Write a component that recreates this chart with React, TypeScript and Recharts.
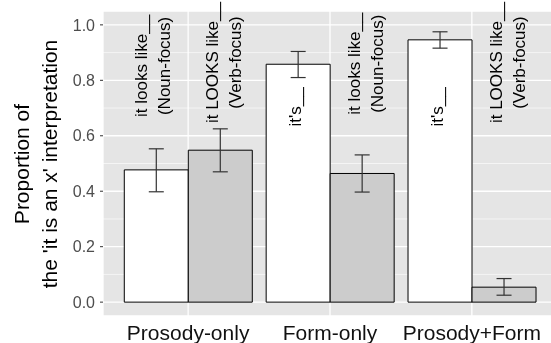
import React from 'react';
import { BarChart, Bar, XAxis, YAxis, CartesianGrid, ErrorBar, LabelList } from 'recharts';

const categories = ['Prosody-only', 'Form-only', 'Prosody+Form'];

const whiteValues = [0.477, 0.858, 0.946];
const whiteLow = [0.398, 0.81, 0.916];
const whiteHigh = [0.553, 0.904, 0.975];
const whiteLabels = ['it looks like__\n(Noun-focus)', "it's__", "it's__"];
const whiteLabelAt = [0.852, 0.704, 0.704];

const grayValues = [0.548, 0.464, 0.054];
const grayLow = [0.47, 0.397, 0.025];
const grayHigh = [0.625, 0.531, 0.085];
const grayLabels = ['it LOOKS like__\n(Verb-focus)', 'it looks like__\n(Noun-focus)', 'it LOOKS like__\n(Verb-focus)'];
const grayLabelAt = [0.864, 0.86, 0.864];

const yDomain = [-0.05, 1.05];
const yTicks = [0, 0.2, 0.4, 0.6, 0.8, 1.0];
const yMinorTicks = [0.1, 0.3, 0.5, 0.7, 0.9];

const FONT = '"Liberation Sans", Arial, Helvetica, sans-serif';

const data = categories.map((name, i) => ({
  name,
  white: whiteValues[i],
  whiteErr: [whiteValues[i] - whiteLow[i], whiteHigh[i] - whiteValues[i]],
  whiteLabel: whiteLabels[i],
  gray: grayValues[i],
  grayErr: [grayValues[i] - grayLow[i], grayHigh[i] - grayValues[i]],
  grayLabel: grayLabels[i],
}));

const makeBarLabel = (values: number[], at: number[], frac: number) => (props: any) => {
  const vb = props.viewBox && props.viewBox.width !== undefined ? props.viewBox : props;
  const { x, y, width, height } = vb;
  const i = props.index;
  if (i === undefined || x === undefined) return null;
  const base = y + height;
  const perUnit = height / values[i];
  const cy = base - at[i] * perUnit;
  const cx = x + width * frac;
  const lines = String(props.value).split('\n');
  const fs = 17;
  const lh = 23;
  return (
    <text
      transform={`rotate(-90 ${cx} ${cy})`}
      textAnchor="middle"
      fontSize={fs}
      fontFamily={FONT}
      fill="#000"
    >
      {lines.map((l, k) => (
        <tspan key={k} x={cx} y={cy + (k - (lines.length - 1) / 2) * lh + fs * 0.36}>
          {l}
        </tspan>
      ))}
    </text>
  );
};

const XTick = (props: any) => {
  const { x, y, payload } = props;
  return (
    <text x={x} y={y + 24} textAnchor="middle" fontSize={21} fontFamily={FONT} fill="#111">
      {payload.value}
    </text>
  );
};

const YTitle = () => (
  <text transform="rotate(-90 0 0)" textAnchor="middle" fontSize={21} fontFamily={FONT} fill="#000">
    <tspan x={-164} y={28.5}>Proportion of</tspan>
    <tspan x={-164} y={56.5}>the 'it is an x' interpretation</tspan>
  </text>
);

// minor gridlines: use the axis scale when given, else map through the plot offset
const minorLines = (props: any) => {
  const s = props.yAxis && props.yAxis.scale;
  if (typeof s === 'function') return yMinorTicks.map((v) => s(v));
  const { top, height } = props.offset;
  const [lo, hi] = yDomain;
  return yMinorTicks.map((v) => top + (height * (hi - v)) / (hi - lo));
};

export default function App() {
  return (
    <div
      style={{
        position: 'absolute',
        left: 0,
        top: 0,
        width: 551,
        height: 343,
        overflow: 'hidden',
        background: '#fff',
        filter: 'grayscale(1)',
      }}
    >
      <BarChart
        width={560}
        height={343}
        data={data}
        margin={{ top: 11, right: 3, bottom: 0, left: 0 }}
        barCategoryGap="5%"
        barGap={0}
      >
        <CartesianGrid
          fill="#E5E5E5"
          stroke="#fff"
          strokeWidth={0.6}
          vertical={false}
          horizontalCoordinatesGenerator={minorLines}
        />
        <CartesianGrid stroke="#fff" strokeWidth={1.3} />
        <XAxis
          dataKey="name"
          type="category"
          padding={{ left: 14.2, right: 14.2 }}
          height={27}
          tickLine={false}
          axisLine={false}
          tickSize={0}
          tickMargin={0}
          tick={<XTick />}
          interval={0}
        />
        <YAxis
          type="number"
          domain={yDomain}
          ticks={yTicks}
          width={103}
          axisLine={false}
          tickLine={{ stroke: '#333', strokeWidth: 1 }}
          tickSize={3}
          tickMargin={5}
          tickFormatter={(v: number) => v.toFixed(1)}
          tick={{ fontSize: 16, fill: '#4D4D4D', fontFamily: FONT }}
          allowDataOverflow
          label={{ content: () => <YTitle /> }}
        />
        <Bar dataKey="white" fill="#FFFFFF" stroke="#000" strokeWidth={1} isAnimationActive={false}>
          <ErrorBar dataKey="whiteErr" width={7.5} stroke="#333" strokeWidth={1.2} direction="y" />
          <LabelList dataKey="whiteLabel" content={makeBarLabel(whiteValues, whiteLabelAt, 4 / 9)} />
        </Bar>
        <Bar dataKey="gray" fill="#CCCCCC" stroke="#000" strokeWidth={1} isAnimationActive={false}>
          <ErrorBar dataKey="grayErr" width={7.5} stroke="#333" strokeWidth={1.2} direction="y" />
          <LabelList dataKey="grayLabel" content={makeBarLabel(grayValues, grayLabelAt, 5 / 9)} />
        </Bar>
      </BarChart>
    </div>
  );
}
